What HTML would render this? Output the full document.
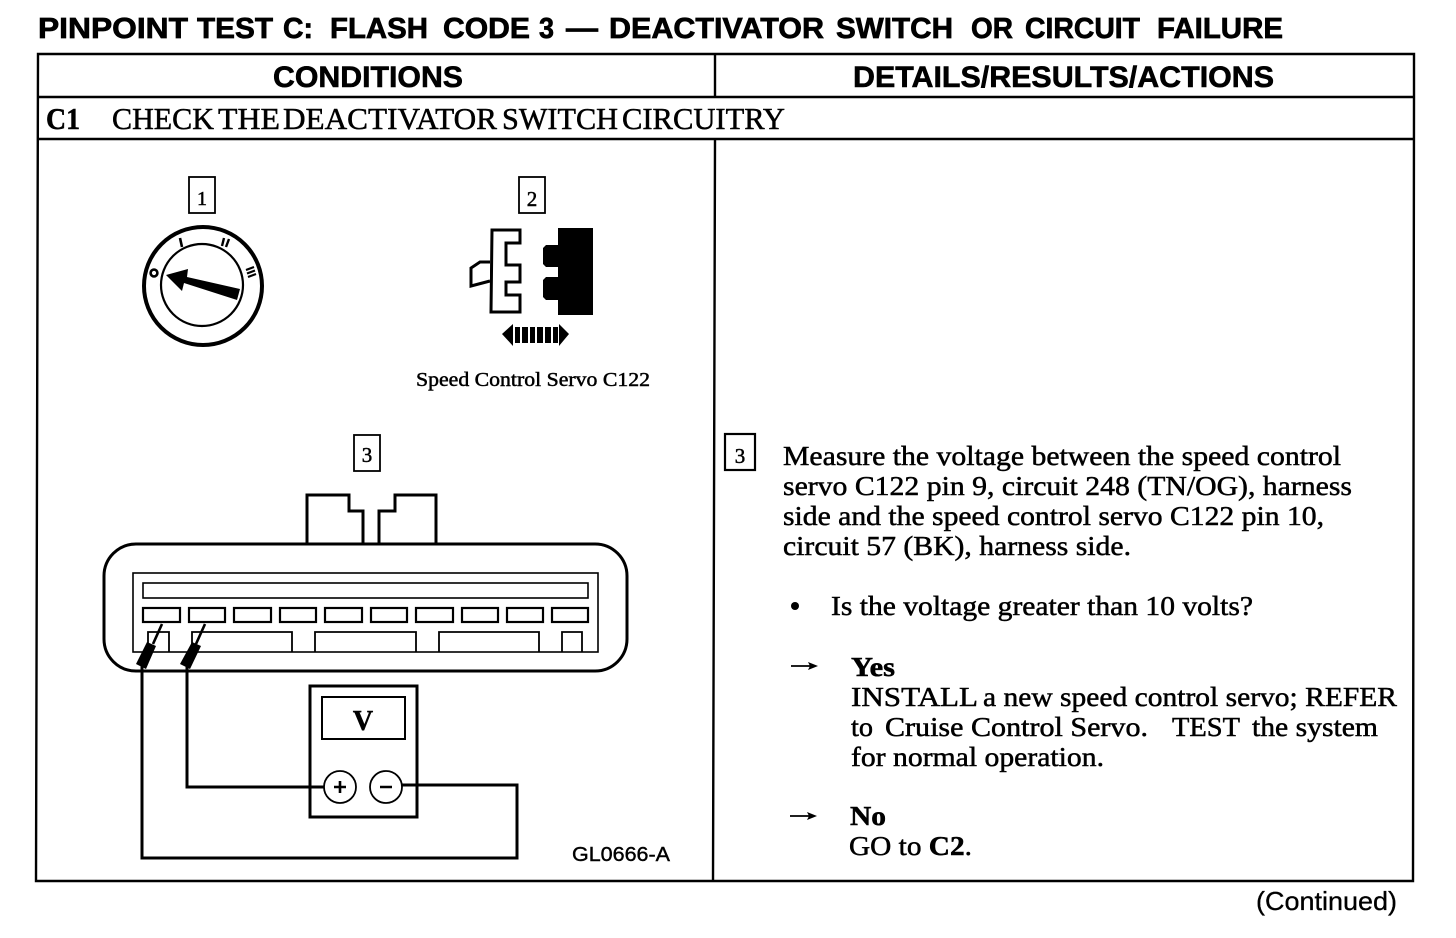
<!DOCTYPE html>
<html><head><meta charset="utf-8"><title>Pinpoint Test C</title>
<style>
html,body{margin:0;padding:0;background:#fff;width:1456px;height:938px;overflow:hidden}
svg{display:block}
.s{font-family:"Liberation Sans",sans-serif}
.t{font-family:"Liberation Sans",sans-serif;font-weight:700;font-size:29px;stroke:#000;stroke-width:.7}
.h{font-family:"Liberation Sans",sans-serif;font-weight:700;font-size:30px;stroke:#000;stroke-width:.6}
.f{font-family:"Liberation Serif",serif;fill:#000;stroke:#000;stroke-width:.5}
.r{font-size:27.5px}
.c{font-size:31px}
</style></head><body>
<svg width="1456" height="938" viewBox="0 0 1456 938" xmlns="http://www.w3.org/2000/svg">
<rect width="1456" height="938" fill="#fff"/>
<!-- title -->
<text class="t" x="38" y="38" textLength="150" lengthAdjust="spacingAndGlyphs">PINPOINT</text>
<text class="t" x="197" y="38" textLength="76" lengthAdjust="spacingAndGlyphs">TEST</text>
<text class="t" x="283" y="38" textLength="30" lengthAdjust="spacingAndGlyphs">C:</text>
<text class="t" x="330" y="38" textLength="98" lengthAdjust="spacingAndGlyphs">FLASH</text>
<text class="t" x="443" y="38" textLength="87" lengthAdjust="spacingAndGlyphs">CODE</text>
<text class="t" x="539" y="38" textLength="15" lengthAdjust="spacingAndGlyphs">3</text>
<text class="t" x="566" y="38" textLength="32" lengthAdjust="spacingAndGlyphs">—</text>
<text class="t" x="609" y="38" textLength="215" lengthAdjust="spacingAndGlyphs">DEACTIVATOR</text>
<text class="t" x="836" y="38" textLength="117" lengthAdjust="spacingAndGlyphs">SWITCH</text>
<text class="t" x="971" y="38" textLength="42" lengthAdjust="spacingAndGlyphs">OR</text>
<text class="t" x="1025" y="38" textLength="115" lengthAdjust="spacingAndGlyphs">CIRCUIT</text>
<text class="t" x="1157" y="38" textLength="126" lengthAdjust="spacingAndGlyphs">FAILURE</text>
<!-- table -->
<g fill="none" stroke="#000" stroke-width="2.4">
<path d="M38 54H1414V97L1413 881H36L38 54Z"/>
<path d="M38 97H1414M38 139H1414"/>
<path d="M715 54V97M715 139L713 881"/>
</g>
<text class="h" x="273" y="87" textLength="190" lengthAdjust="spacingAndGlyphs">CONDITIONS</text>
<text class="h" x="853" y="87" textLength="421" lengthAdjust="spacingAndGlyphs">DETAILS/RESULTS/ACTIONS</text>
<text class="f c" x="46" y="129" font-weight="700" textLength="34" lengthAdjust="spacingAndGlyphs">C1</text>
<text class="f c" x="112" y="129" textLength="102" lengthAdjust="spacingAndGlyphs">CHECK</text>
<text class="f c" x="218" y="129" textLength="62" lengthAdjust="spacingAndGlyphs">THE</text>
<text class="f c" x="283" y="129" textLength="214" lengthAdjust="spacingAndGlyphs">DEACTIVATOR</text>
<text class="f c" x="502" y="129" textLength="116" lengthAdjust="spacingAndGlyphs">SWITCH</text>
<text class="f c" x="622" y="129" textLength="163" lengthAdjust="spacingAndGlyphs">CIRCUITRY</text>

<!-- badges -->
<g fill="none" stroke="#000" stroke-width="1.8">
<rect x="189" y="177" width="26" height="36"/>
<rect x="519" y="177" width="26" height="36"/>
<rect x="354" y="435" width="26" height="36"/>
</g>
<rect x="725" y="434" width="30" height="36" fill="none" stroke="#000" stroke-width="2.2"/>
<text class="f" x="202" y="205" font-size="20" text-anchor="middle">1</text>
<text class="f" x="532" y="206" font-size="21" text-anchor="middle">2</text>
<text class="f" x="367" y="462" font-size="21" text-anchor="middle">3</text>
<text class="f" x="740" y="463" font-size="21" text-anchor="middle">3</text>

<!-- dial -->
<circle cx="203" cy="286" r="59" fill="none" stroke="#000" stroke-width="4"/>
<circle cx="202" cy="285" r="41" fill="none" stroke="#000" stroke-width="2.2"/>
<polygon points="166,275 188,269 187,277 240,289 237,300 184,283 182,291" fill="#000"/>
<g stroke="#000" fill="none">
<path d="M180 238L182 247" stroke-width="2.6"/>
<path d="M224 238L222 246M229 239L226 247" stroke-width="2.4"/>
<path d="M246 270L254 267M247 273.5L255 270.5M248 277L256 274" stroke-width="2.2"/>
<circle cx="154" cy="273" r="3.4" stroke-width="2.6"/>
</g>

<!-- connector 2 -->
<path d="M492 230H520V243H506V265H520V282H506V295H520V312H491Z" fill="#fff" stroke="#000" stroke-width="3"/>
<path d="M490 262H480L471 268V286L490 281" fill="#fff" stroke="#000" stroke-width="3"/>
<path d="M558 228H593V315H558V300H546L543 297V280L546 277H558V267H546L543 264V248L546 245H558Z" fill="#000"/>
<g fill="#000">
<polygon points="502,334 513,324 513,346"/>
<rect x="515" y="327" width="5" height="16"/>
<rect x="522" y="327" width="6" height="16"/>
<rect x="530" y="327" width="5" height="16"/>
<rect x="537" y="327" width="6" height="16"/>
<rect x="545" y="327" width="6" height="16"/>
<rect x="553" y="327" width="5" height="16"/>
<polygon points="569,334 559,324 559,346"/>
</g>
<text class="f" x="416" y="386" font-size="20" textLength="234" lengthAdjust="spacingAndGlyphs">Speed Control Servo C122</text>

<!-- main connector -->
<g fill="none" stroke="#000">
<path d="M307 543V495H349V511H363V543M379 543V511H395V495H436V543" stroke-width="3"/>
<rect x="104" y="544" width="523" height="127" rx="32" ry="32" stroke-width="3"/>
<rect x="133" y="573" width="465" height="79" stroke-width="1.6"/>
<rect x="143" y="583" width="445" height="15" stroke-width="1.6"/>
<g stroke-width="2.2">
<rect x="143" y="608" width="37" height="14"/>
<rect x="189" y="608" width="36" height="14"/>
<rect x="234" y="608" width="37" height="14"/>
<rect x="280" y="608" width="36" height="14"/>
<rect x="325" y="608" width="37" height="14"/>
<rect x="371" y="608" width="36" height="14"/>
<rect x="416" y="608" width="37" height="14"/>
<rect x="462" y="608" width="36" height="14"/>
<rect x="507" y="608" width="36" height="14"/>
<rect x="552" y="608" width="36" height="14"/>
</g>
<g stroke-width="1.8">
<path d="M148 652V632H169V652"/>
<path d="M192 652V632H292V652"/>
<path d="M315 652V632H416V652"/>
<path d="M439 652V632H539V652"/>
<path d="M562 652V632H582V652"/>
</g>
</g>
<!-- probes -->
<path d="M162 624L153 644M205 624L196 644" stroke="#000" stroke-width="2.6"/>
<polygon points="147,642 156,646 146,669 136,664" fill="#000"/>
<polygon points="192,642 201,646 190,669 180,664" fill="#000"/>
<!-- wires -->
<g fill="none" stroke="#000" stroke-width="3">
<path d="M142 666V858H517V785H416"/>
<path d="M187 666V787H324"/>
</g>
<!-- meter -->
<rect x="310" y="686" width="107" height="131" fill="none" stroke="#000" stroke-width="3"/>
<path d="M310 787H324M402 785H417" stroke="#000" stroke-width="3"/>
<rect x="322" y="697" width="83" height="42" fill="none" stroke="#000" stroke-width="2"/>
<text class="f" x="363" y="730" font-size="28" font-weight="700" text-anchor="middle">V</text>
<circle cx="340" cy="787" r="16" fill="#fff" stroke="#000" stroke-width="1.8"/>
<circle cx="386" cy="787" r="16" fill="#fff" stroke="#000" stroke-width="1.8"/>
<path d="M334 787H346M340 781V793M380 787H392" stroke="#000" stroke-width="2.6"/>
<text class="s" x="572" y="861" font-size="20" textLength="98" lengthAdjust="spacingAndGlyphs" stroke="#000" stroke-width=".4">GL0666-A</text>

<!-- right column -->
<text class="f r" x="783" y="465" textLength="558" lengthAdjust="spacingAndGlyphs">Measure the voltage between the speed control</text>
<text class="f r" x="783" y="495" textLength="569" lengthAdjust="spacingAndGlyphs">servo C122 pin 9, circuit 248 (TN/OG), harness</text>
<text class="f r" x="783" y="525" textLength="541" lengthAdjust="spacingAndGlyphs">side and the speed control servo C122 pin 10,</text>
<text class="f r" x="783" y="555" textLength="348" lengthAdjust="spacingAndGlyphs">circuit 57 (BK), harness side.</text>
<circle cx="795" cy="606" r="4" fill="#000"/>
<text class="f r" x="831" y="615" textLength="422" lengthAdjust="spacingAndGlyphs">Is the voltage greater than 10 volts?</text>
<path d="M791 666H812" stroke="#000" stroke-width="1.8"/><polygon points="818,666 808,662 810,666 808,670" fill="#000"/>
<text class="f r" x="851" y="676" font-weight="700" textLength="44" lengthAdjust="spacingAndGlyphs">Yes</text>
<text class="f r" x="851" y="706" textLength="127" lengthAdjust="spacingAndGlyphs">INSTALL</text>
<text class="f r" x="983" y="706" textLength="414" lengthAdjust="spacingAndGlyphs">a new speed control servo; REFER</text>
<text class="f r" x="851" y="736" textLength="22" lengthAdjust="spacingAndGlyphs">to</text>
<text class="f r" x="885" y="736" textLength="263" lengthAdjust="spacingAndGlyphs">Cruise Control Servo.</text>
<text class="f r" x="1172" y="736" textLength="68" lengthAdjust="spacingAndGlyphs">TEST</text>
<text class="f r" x="1252" y="736" textLength="126" lengthAdjust="spacingAndGlyphs">the system</text>
<text class="f r" x="851" y="766" textLength="253" lengthAdjust="spacingAndGlyphs">for normal operation.</text>
<path d="M790 816H811" stroke="#000" stroke-width="1.8"/><polygon points="817,816 807,812 809,816 807,820" fill="#000"/>
<text class="f r" x="850" y="825" font-weight="700" textLength="36" lengthAdjust="spacingAndGlyphs">No</text>
<text class="f r" x="849" y="855" textLength="123" lengthAdjust="spacingAndGlyphs">GO to <tspan font-weight="700">C2</tspan>.</text>
<text class="s" x="1256" y="910" font-size="26" textLength="141" lengthAdjust="spacingAndGlyphs" stroke="#000" stroke-width=".3">(Continued)</text>
</svg>
</body></html>
